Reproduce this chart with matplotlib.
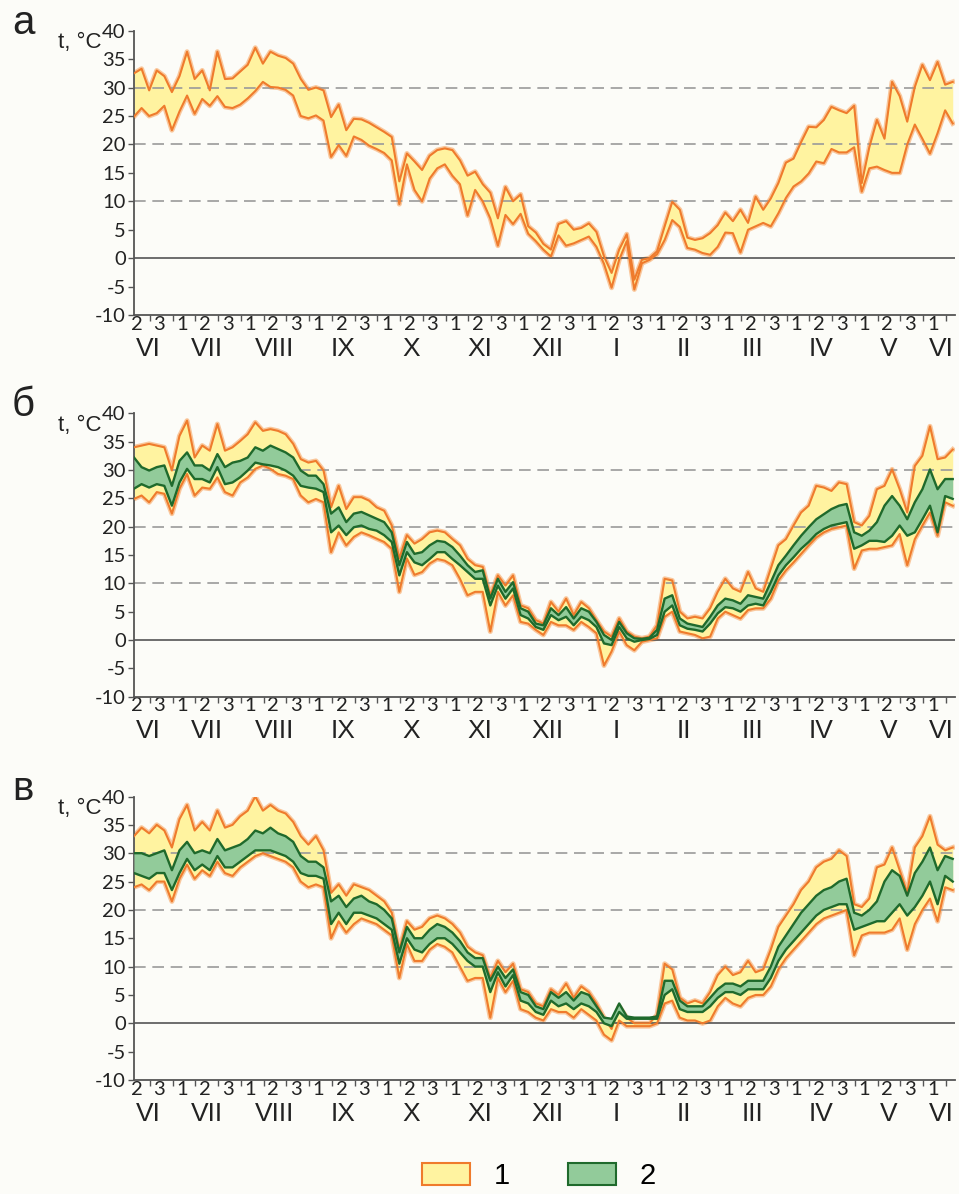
import numpy as np
import matplotlib.pyplot as plt
from matplotlib.patches import Patch
from matplotlib.transforms import blended_transform_factory

plt.rcParams['axes.unicode_minus'] = False

# 3 readings per ten-day period (decade); x in decade units, 1 = end of 2nd decade of June
x = np.arange(109) / 3 + 0.3

decade_labels = ['2', '3'] + ['1', '2', '3'] * 11 + ['1']
month_labels = ['VI', 'VII', 'VIII', 'IX', 'X', 'XI', 'XII', 'I', 'II', 'III', 'IV', 'V', 'VI']

# panel а : band 1 (upper / lower)
a_up = [32.5, 33.3, 29.5, 33.0, 32.0, 29.2, 32.0, 36.3, 31.5,
        33.0, 29.5, 36.3, 31.5, 31.6, 32.8, 34.0, 37.0, 34.2,
        36.3, 35.6, 35.2, 34.2, 31.5, 29.6, 30.0, 29.5, 24.8,
        27.0, 22.5, 24.5, 24.4, 23.8, 23.0, 22.2, 21.3, 13.5,
        18.4, 17.0, 15.5, 18.0, 19.0, 19.3, 19.0, 17.2, 14.5,
        15.2, 13.0, 11.5, 7.0, 12.5, 10.0, 11.2, 5.6, 4.5,
        2.5, 1.5, 6.0, 6.5, 5.0, 5.3, 6.1, 4.6, 0.3,
        -2.6, 1.5, 4.2, -3.8, -0.3, 0.0, 1.2, 5.6, 9.9,
        8.5, 3.6, 3.2, 3.5, 4.4, 5.8, 8.0, 6.5, 8.5,
        6.2, 10.8, 8.5, 10.5, 13.2, 16.8, 17.5, 20.4, 23.1,
        23.0, 24.3, 26.6, 26.0, 25.5, 26.8, 13.2, 19.5, 24.3,
        21.0, 31.0, 28.5, 24.0, 30.1, 34.0, 31.3, 34.5, 30.5, 31.0]
a_lo = [24.9, 26.4, 25.0, 25.5, 26.8, 22.5, 25.8, 28.6, 25.4,
        28.0, 26.8, 28.5, 26.6, 26.4, 27.0, 28.1, 29.4, 31.0,
        30.1, 30.0, 29.6, 28.6, 25.0, 24.6, 25.1, 24.2, 17.8,
        19.9, 18.0, 21.4, 20.8, 19.8, 19.2, 18.5, 17.2, 9.5,
        16.5, 12.0, 10.0, 14.0, 15.8, 16.5, 14.5, 13.0, 7.5,
        12.0, 10.0, 7.0, 2.2, 7.6, 6.0, 7.8, 4.3, 3.0,
        1.5, 0.3, 4.0, 2.2, 2.6, 3.2, 3.8, 2.0, -1.0,
        -5.2, -0.3, 3.0, -5.5, -0.9, -0.3, 0.7, 3.2, 6.7,
        5.5, 1.8, 1.5, 0.9, 0.6, 2.0, 4.5, 4.4, 1.0,
        5.0, 5.6, 6.2, 5.6, 7.9, 10.6, 12.6, 13.5, 14.9,
        17.0, 16.7, 19.2, 18.6, 18.6, 19.5, 11.7, 15.8, 16.1,
        15.5, 15.0, 15.0, 20.0, 23.5, 21.0, 18.4, 22.0, 26.0, 23.7]

# panel б : band 1 and band 2
b_up = [34.0, 34.3, 34.6, 34.3, 34.0, 29.9, 36.0, 38.7, 32.2,
        34.3, 33.4, 38.1, 33.4, 34.0, 35.1, 36.3, 38.4, 36.9,
        37.2, 36.9, 36.3, 34.6, 31.9, 31.3, 31.6, 29.9, 23.4,
        27.2, 23.1, 25.2, 25.2, 24.6, 23.4, 22.8, 20.2, 14.4,
        18.5, 17.0, 17.8, 19.0, 19.3, 19.0, 17.8, 16.7, 14.3,
        13.2, 12.9, 7.9, 11.4, 9.6, 11.4, 6.1, 5.6, 3.5,
        2.9, 6.7, 5.0, 7.3, 4.4, 6.7, 5.6, 3.5, 1.5,
        0.6, 3.8, 1.5, 0.6, 0.3, 0.6, 2.6, 10.8, 10.5,
        5.0, 3.8, 4.1, 3.8, 5.6, 8.5, 10.8, 9.1, 8.5,
        12.0, 9.1, 8.5, 12.6, 16.7, 17.8, 20.2, 22.5, 23.7,
        27.2, 26.9, 26.3, 27.8, 27.5, 20.8, 20.2, 21.9, 26.6,
        27.2, 30.1, 26.6, 22.5, 30.7, 32.5, 37.7, 31.9, 32.2, 33.6]
b_lo = [24.9, 25.5, 24.3, 26.1, 25.8, 22.3, 26.7, 29.3, 25.5,
        26.9, 26.7, 28.7, 26.1, 25.5, 27.8, 28.7, 30.2, 30.8,
        30.2, 29.3, 29.0, 28.4, 25.5, 24.3, 24.9, 24.3, 15.5,
        19.0, 16.7, 18.2, 19.0, 18.5, 17.9, 17.3, 16.1, 8.5,
        14.4, 11.5, 12.0, 13.5, 14.3, 14.0, 13.2, 10.8, 7.9,
        8.5, 8.5, 1.5, 8.5, 6.1, 7.9, 3.2, 2.9, 1.8,
        0.9, 3.2, 2.6, 2.6, 1.8, 3.2, 2.3, 1.2, -4.5,
        -2.0, 1.5, -0.9, -1.8, -0.3, 0.0, 0.3, 4.1, 5.0,
        1.5, 1.2, 0.9, 0.3, 0.6, 3.8, 5.0, 4.4, 3.8,
        5.3, 5.6, 5.6, 7.3, 10.5, 12.3, 13.7, 15.2, 16.7,
        18.1, 19.0, 19.6, 19.9, 20.2, 12.6, 15.8, 16.1, 16.1,
        16.4, 16.7, 18.7, 13.2, 17.8, 20.2, 22.5, 18.4, 24.3, 23.7]
b_green_up = [32.2, 30.5, 29.9, 30.5, 30.8, 27.2, 31.6, 33.1, 30.8,
              30.8, 29.9, 32.8, 30.5, 31.3, 31.6, 32.2, 34.0, 33.4,
              34.3, 33.7, 33.1, 32.2, 29.9, 29.0, 29.0, 27.5, 22.3,
              23.4, 20.8, 22.3, 22.6, 22.0, 21.4, 20.8, 19.0, 13.2,
              17.3, 15.2, 15.5, 16.7, 17.5, 17.3, 16.4, 14.9, 13.2,
              12.0, 12.3, 7.3, 10.8, 8.5, 10.2, 5.6, 5.0, 2.9,
              2.6, 5.6, 4.4, 5.8, 3.8, 5.6, 5.0, 3.2, 0.9,
              0.0, 3.2, 1.2, 0.3, 0.2, 0.4, 1.8, 7.3, 7.9,
              3.8, 2.9, 2.6, 2.3, 4.1, 6.1, 7.3, 7.0, 6.4,
              7.9, 7.6, 7.3, 10.2, 13.2, 14.9, 16.7, 18.4, 19.9,
              21.3, 22.2, 23.1, 23.7, 24.0, 19.0, 18.4, 19.3, 20.8,
              23.7, 25.4, 23.7, 21.3, 24.3, 26.6, 30.1, 26.6, 28.4, 28.4]
b_green_lo = [26.7, 27.5, 26.9, 27.5, 27.2, 23.7, 27.8, 30.2, 28.4,
              28.4, 27.8, 30.5, 27.5, 27.8, 28.7, 29.9, 31.3, 31.0,
              30.8, 30.5, 29.9, 29.0, 27.2, 26.9, 26.7, 26.1, 19.0,
              20.2, 18.5, 19.9, 20.2, 19.6, 19.3, 18.5, 17.3, 11.4,
              15.5, 13.7, 13.2, 14.3, 15.5, 15.5, 14.3, 13.2, 12.0,
              10.8, 10.8, 6.1, 9.6, 7.3, 9.1, 4.4, 3.8, 2.3,
              1.8, 4.4, 3.5, 4.1, 2.6, 4.1, 3.5, 2.3, -0.6,
              -0.9, 2.3, 0.3, -0.3, 0.0, 0.2, 0.9, 5.0, 6.1,
              2.6, 2.0, 1.8, 1.5, 2.9, 4.7, 5.8, 5.6, 5.0,
              6.1, 6.4, 6.1, 8.5, 11.4, 13.2, 14.6, 16.1, 17.3,
              18.7, 19.6, 20.2, 20.5, 20.8, 16.1, 16.7, 17.5, 17.5,
              17.3, 18.4, 20.2, 18.4, 19.0, 21.3, 23.7, 19.0, 25.4, 24.9]

# panel в : band 1 and band 2
v_up = [33.0, 34.5, 33.5, 35.0, 34.0, 31.0, 36.0, 38.5, 34.0,
        35.5, 34.0, 37.5, 34.5, 35.0, 36.5, 37.5, 40.0, 37.5,
        38.5, 37.5, 37.0, 35.5, 33.0, 31.5, 33.0, 30.5, 23.0,
        24.5, 22.5, 24.5, 24.0, 23.5, 22.5, 21.5, 19.5, 13.0,
        18.0, 16.5, 17.0, 18.5, 19.0, 18.5, 17.5, 16.0, 13.5,
        12.5, 12.0, 8.0, 11.0, 9.0, 10.5, 6.0, 5.5, 3.5,
        3.0, 6.0, 5.0, 7.0, 4.5, 6.5, 5.5, 3.5, 1.0,
        -1.0, 3.0, 1.0, 0.0, 0.0, 0.0, 1.5, 10.5, 9.5,
        4.5, 3.5, 4.0, 3.5, 5.5, 8.5, 10.0, 8.5, 9.0,
        11.0, 9.0, 9.5, 13.0, 17.0, 19.0, 21.0, 23.5, 25.0,
        27.5, 28.5, 29.0, 30.5, 29.5, 21.0, 20.5, 22.0, 27.5,
        28.0, 31.0, 27.0, 23.0, 31.0, 33.0, 36.5, 31.5, 30.5, 31.0]
v_lo = [24.0, 24.5, 23.5, 25.0, 25.0, 21.5, 25.5, 28.0, 25.5,
        27.0, 26.0, 28.5, 26.5, 26.0, 27.5, 28.5, 29.5, 30.0,
        29.5, 29.0, 28.5, 27.5, 25.0, 24.0, 24.5, 24.0, 15.0,
        18.0, 16.0, 17.5, 18.5, 18.0, 17.5, 16.5, 15.5, 8.0,
        14.0, 11.0, 11.0, 13.0, 14.0, 13.5, 12.5, 10.0, 7.5,
        8.0, 8.0, 1.0, 8.0, 5.5, 7.5, 2.5, 2.0, 1.0,
        0.5, 2.5, 2.0, 2.0, 1.0, 2.5, 1.5, 0.5, -2.0,
        -3.0, 0.5, -0.5, -0.5, -0.5, -0.5, 0.0, 3.5, 4.0,
        1.0, 0.5, 0.5, 0.0, 0.5, 3.0, 4.5, 3.5, 3.0,
        4.5, 5.0, 5.0, 6.5, 9.5, 11.5, 13.0, 14.5, 16.0,
        17.5, 18.5, 19.0, 19.5, 20.0, 12.0, 15.5, 16.0, 16.0,
        16.0, 16.5, 18.5, 13.0, 17.5, 20.0, 22.0, 18.0, 24.0, 23.5]
v_green_up = [30.0, 30.0, 29.5, 30.0, 30.5, 27.0, 30.5, 32.0, 30.0,
              30.5, 30.0, 32.5, 30.5, 31.0, 31.5, 32.5, 34.0, 33.5,
              34.5, 33.5, 33.0, 32.0, 29.5, 28.5, 28.5, 27.5, 21.5,
              22.5, 20.5, 22.0, 22.5, 21.5, 21.0, 20.0, 18.5, 12.5,
              17.0, 15.0, 15.0, 16.5, 17.5, 17.0, 16.0, 14.5, 12.5,
              11.5, 11.5, 7.5, 10.0, 8.0, 9.5, 5.5, 5.0, 3.0,
              2.5, 5.5, 4.5, 5.5, 4.0, 5.5, 5.0, 3.0, 1.0,
              0.8, 3.5, 1.2, 1.0, 1.0, 1.0, 1.2, 7.5, 7.5,
              4.0, 3.0, 3.0, 3.0, 4.5, 6.0, 7.0, 7.0, 6.5,
              7.5, 7.5, 7.5, 10.0, 13.5, 15.5, 17.5, 19.5, 21.0,
              22.5, 23.5, 24.0, 25.0, 25.5, 19.5, 19.0, 20.0, 21.5,
              25.0, 27.0, 26.0, 22.5, 26.5, 28.5, 31.0, 27.0, 29.5, 29.0]
v_green_lo = [26.5, 26.0, 25.5, 26.5, 26.5, 23.5, 26.5, 29.0, 27.0,
              28.0, 27.0, 29.5, 27.5, 27.5, 28.5, 29.5, 30.5, 30.5,
              30.5, 30.0, 29.5, 28.5, 26.5, 26.0, 26.0, 25.5, 17.5,
              19.5, 17.5, 19.5, 19.5, 19.0, 18.5, 17.5, 16.5, 10.5,
              15.0, 13.0, 12.5, 14.0, 15.0, 15.0, 14.0, 12.5, 11.0,
              10.0, 10.0, 5.5, 9.0, 6.5, 8.5, 4.0, 3.5, 2.0,
              1.5, 4.0, 3.0, 3.5, 2.5, 3.5, 3.0, 2.0, 0.0,
              -0.5, 2.0, 0.8, 0.8, 0.8, 0.8, 0.8, 5.0, 6.0,
              2.5, 2.0, 2.0, 2.0, 3.0, 4.5, 5.5, 5.5, 5.0,
              6.0, 6.0, 6.0, 8.0, 11.0, 13.0, 14.5, 16.0, 17.5,
              19.0, 20.0, 20.5, 21.0, 21.0, 16.5, 17.0, 17.5, 18.0,
              18.0, 19.5, 21.0, 19.0, 20.5, 22.5, 25.0, 21.0, 26.0, 25.0]

YELLOW = '#fff3a0'
ORANGE = '#ef7b2c'
HALO = '#f9c79c'
GREEN = '#92cb9a'
DKGREEN = '#1f6a2c'
AXCOL = '#555555'
NUMFONT = 'Lato'
TXTFONT = 'Liberation Sans'

W, H = 959, 1194
fig = plt.figure(figsize=(W / 100, H / 100), dpi=100, facecolor='#fcfcf8')


def draw_panel(top_px, bottom_px, letter, up, lo, g_up=None, g_lo=None):
    ax = fig.add_axes([134 / W, 1 - bottom_px / H, 821 / W, (bottom_px - top_px) / H])
    ax.set_facecolor('none')
    ax.set_xlim(0.3, 36.4)
    ax.set_ylim(-10, 40)

    for s in (up, lo):
        ax.plot(x, s, color=HALO, lw=3.6, zorder=1.5, solid_joinstyle='round')
    ax.fill_between(x, lo, up, color=YELLOW, lw=0, zorder=2)
    for y in (10, 20, 30):
        ax.axhline(y, color='#9a9a9a', lw=1.2, dashes=(7, 4), zorder=2.5)
    ax.axhline(0, color=AXCOL, lw=1.2, zorder=2.5)
    for s in (up, lo):
        ax.plot(x, s, color=ORANGE, lw=1.5, zorder=3)
    if g_up is not None:
        ax.fill_between(x, g_lo, g_up, color=GREEN, lw=0, zorder=4)
        for s in (g_up, g_lo):
            ax.plot(x, s, color=DKGREEN, lw=1.7, zorder=5)

    for side in ('top', 'right'):
        ax.spines[side].set_visible(False)
    for side in ('left', 'bottom'):
        ax.spines[side].set_color(AXCOL)
        ax.spines[side].set_linewidth(1.3)

    ax.set_yticks(range(-10, 41, 5))
    ax.tick_params(axis='y', length=4, width=1, color=AXCOL, pad=2,
                   labelsize=14.5, labelcolor='#222222')
    for t in ax.get_yticklabels():
        t.set_fontfamily(NUMFONT)

    ax.set_xticks(np.arange(1, 37))
    ax.set_xticks(np.arange(36) + 0.42, decade_labels, minor=True)
    ax.tick_params(axis='x', which='major', length=4, width=1, color=AXCOL,
                   labelbottom=False)
    ax.tick_params(axis='x', which='minor', length=0, pad=0.5,
                   labelsize=14.5, labelcolor='#222222')
    for t in ax.get_xticklabels(minor=True):
        t.set_fontfamily(NUMFONT)

    month_pos = [0.95] + [2 + 3 * m + 1.5 for m in range(11)] + [35.8]
    tr = blended_transform_factory(ax.transData, ax.transAxes)
    for p, m in zip(month_pos, month_labels):
        ax.text(p, -0.12, m, transform=tr, ha='center', va='center',
                fontsize=19, family=TXTFONT, color='#222222')

    fig.text(102 / W, 1 - (top_px + 12) / H, 't, °C', ha='right', va='center',
             fontsize=16, family=TXTFONT, color='#222222')
    fig.text(23 / W, 1 - (top_px - 8) / H, letter, ha='center', va='center',
             fontsize=29, family=TXTFONT, color='#222222')
    return ax


draw_panel(30.7, 315, 'а', a_up, a_lo)
draw_panel(413.3, 696.7, 'б', b_up, b_lo, b_green_up, b_green_lo)
draw_panel(796.5, 1080, 'в', v_up, v_lo, v_green_up, v_green_lo)

handles = [Patch(facecolor=YELLOW, edgecolor=ORANGE, lw=1.5),
           Patch(facecolor=GREEN, edgecolor=DKGREEN, lw=1.5)]
fig.legend(handles, ['1', '2'], ncol=2, loc='lower center',
           bbox_to_anchor=(0.562, -0.019), frameon=False,
           prop={'family': TXTFONT, 'size': 21},
           handlelength=1.65, handleheight=0.8, handletextpad=0.8,
           columnspacing=2.0)

fig.savefig('out.png', dpi=100, facecolor=fig.get_facecolor())
